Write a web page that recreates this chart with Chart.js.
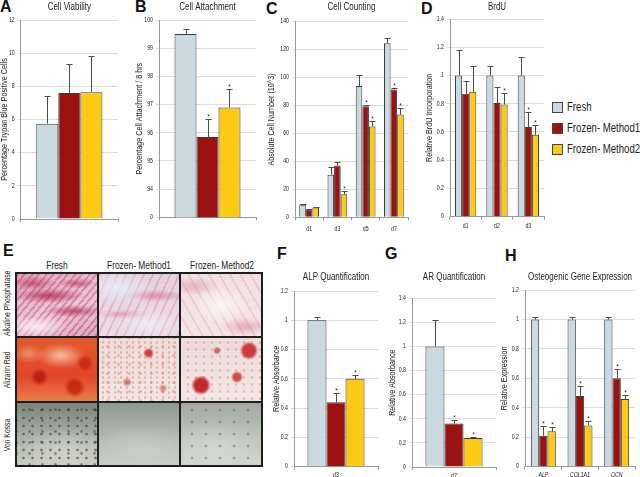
<!DOCTYPE html>
<html>
<head>
<meta charset="utf-8">
<script src="https://cdn.jsdelivr.net/npm/chart.js@4.4.0/dist/chart.umd.min.js"></script>
<style>
  body { margin: 0; background: #fff; }
  #fig { position: relative; width: 640px; height: 477px; overflow: hidden;
         font-family: "Liberation Sans", Arial, sans-serif; color: #222; }
  #fig canvas { position: absolute; }
  .letter { position: absolute; font: bold 16px "Liberation Sans", Arial, sans-serif; line-height: 1; color: #111; }
  .colhead { position: absolute; top: 259px; width: 84px; text-align: center; font-size: 10.5px; line-height: 12px;
             white-space: nowrap; transform: scaleX(0.8); }
  .rowhead { position: absolute; left: 7px; width: 80px; text-align: center; font-size: 8.5px; line-height: 10px;
             transform: translate(-50%, -50%) rotate(-90deg) scaleX(0.8); white-space: nowrap; }
  #photos { position: absolute; left: 15px; top: 272px; width: 244px; height: 191px; padding: 2px;
            background: #1e1e1e; display: grid; grid-template-columns: repeat(3, 1fr);
            grid-template-rows: repeat(3, 1fr); gap: 2px; }
  .legend { position: absolute; left: 552px; font-size: 12px; line-height: 12px; }
  .legend span.box { position: absolute; left: 0; top: 1px; width: 9px; height: 9px; border: 1px solid #444; }
  .legend span.txt { position: absolute; left: 15px; top: 0; white-space: nowrap;
                     transform: scaleX(0.8); transform-origin: 0 50%; }
</style>
</head>
<body>
<div id="fig">
  <div class="letter" style="left:0px;top:-1px">A</div>
  <div class="letter" style="left:135px;top:-1px">B</div>
  <div class="letter" style="left:266px;top:1px">C</div>
  <div class="letter" style="left:421px;top:1px">D</div>
  <div class="letter" style="left:3px;top:243px">E</div>
  <div class="letter" style="left:277px;top:246px">F</div>
  <div class="letter" style="left:385px;top:246px">G</div>
  <div class="letter" style="left:505px;top:248px">H</div>

  <div id="legend"></div>
  <div id="photoHeads"></div>
  <div id="photos"></div>

  <canvas id="chartA" width="121" height="233" style="left:0px;top:0px"></canvas>
  <canvas id="chartB" width="124" height="233" style="left:135px;top:0px"></canvas>
  <canvas id="chartC" width="144" height="233" style="left:267px;top:0px"></canvas>
  <canvas id="chartD" width="122" height="233" style="left:425px;top:0px"></canvas>
  <canvas id="chartF" width="109" height="207" style="left:272px;top:270px"></canvas>
  <canvas id="chartG" width="111" height="207" style="left:388px;top:270px"></canvas>
  <canvas id="chartH" width="138" height="207" style="left:500px;top:270px"></canvas>
</div>

<script>
const seriesNames = ["Fresh", "Frozen- Method1", "Frozen- Method2"];

// A - Cell Viability
const viabilityLabels = [""];
const viabilityMeans = [[5.75], [7.6], [7.65]];
const viabilityErrs = [[1.65], [1.75], [2.2]];
const viabilitySig = [[0], [0], [0]];

// B - Cell Attachment (broken axis, lowest tick reads 0)
const attachLabels = [""];
const attachMeans = [[99.5], [95.85], [96.9]];
const attachErrs = [[0.17], [0.65], [0.65]];
const attachSig = [[0], [1], [1]];

// C - Cell Counting
const countLabels = ["d1", "d3", "d5", "d7"];
const countMeans = [[9, 30.5, 94, 124.5], [5.5, 37, 79.5, 91.5], [7, 16.5, 65, 73.5]];
const countErrs = [[0.6, 5.5, 7.5, 4], [0.5, 2.5, 1, 0.8], [0.4, 2.2, 4, 4.5]];
const countSig = [[0, 0, 0, 0], [0, 0, 1, 1], [0, 1, 1, 1]];

// D - BrdU
const brduLabels = ["d1", "d2", "d3"];
const brduMeans = [[1, 1, 1], [0.87, 0.805, 0.635], [0.885, 0.795, 0.58]];
const brduErrs = [[0.18, 0.07, 0.13], [0.09, 0.115, 0.105], [0.185, 0.08, 0.07]];
const brduSig = [[0, 0, 0], [0, 0, 1], [0, 1, 1]];

// F - ALP Quantification
const alpLabels = ["d3"];
const alpMeans = [[1], [0.44], [0.6]];
const alpErrs = [[0.02], [0.065], [0.025]];
const alpSig = [[0], [1], [1]];

// G - AR Quantification
const arLabels = ["d7"];
const arMeans = [[1], [0.36], [0.24]];
const arErrs = [[0.22], [0.03], [0.006]];
const arSig = [[0], [1], [1]];

// H - Osteogenic Gene Expression
const geneLabels = ["ALP", "COL1A1", "OCN"];
const geneMeans = [[1, 1, 1], [0.21, 0.48, 0.6], [0.24, 0.28, 0.46]];
const geneErrs = [[0.02, 0.02, 0.02], [0.065, 0.065, 0.065], [0.03, 0.03, 0.03]];
const geneSig = [[0, 0, 0], [1, 1, 1], [1, 1, 1]];

// E - stain photos
const stainRows = ["Alkaline Phosphatase", "Alizarin Red", "Von Kossa"];

const fills = ["#cbd9e0", "#9c1212", "#fdcb16"];

Chart.defaults.font.family = "'Liberation Sans', Arial, sans-serif";
Chart.defaults.color = "#333";

// the original uses a condensed face; squeeze canvas text horizontally
const condense = {
  id: "condense",
  beforeInit(chart) {
    const ctx = chart.ctx;
    const fill = ctx.fillText.bind(ctx);
    ctx.fillText = function (text, x, y) {
      ctx.save();
      ctx.translate(x, y);
      ctx.scale(0.8, 1);
      fill(text, 0, 0);
      ctx.restore();
    };
  },
};

// upper whisker + significance star on each bar
const errorBars = {
  id: "errorBars",
  afterDatasetsDraw(chart) {
    const ctx = chart.ctx;
    const yScale = chart.scales.y;
    ctx.save();
    ctx.strokeStyle = "#4a4a4a";
    ctx.lineWidth = 1;
    ctx.fillStyle = "#222";
    ctx.font = "8px 'Liberation Sans', Arial, sans-serif";
    ctx.textAlign = "center";
    chart.data.datasets.forEach((ds, i) => {
      chart.getDatasetMeta(i).data.forEach((bar, j) => {
        const x = Math.round(bar.x) + 0.5;
        const yTop = Math.round(yScale.getPixelForValue(ds.data[j] + ds.errs[j])) + 0.5;
        ctx.beginPath();
        ctx.moveTo(x, bar.y);
        ctx.lineTo(x, yTop);
        ctx.moveTo(x - 3, yTop);
        ctx.lineTo(x + 3, yTop);
        ctx.stroke();
        if (ds.sig[j]) ctx.fillText("*", x, yTop - 1);
      });
    });
    ctx.restore();
  },
};

function barChart(id, p) {
  const el = document.getElementById(id);
  const cx = parseFloat(el.style.left), cy = parseFloat(el.style.top);
  const [L, T, R, B] = p.plot;
  const padTop = p.titleY - cy - 6;
  const datasets = seriesNames.map((name, i) => ({
    label: name,
    data: p.means[i],
    errs: p.errs[i],
    sig: p.sig[i],
    backgroundColor: fills[i],
    borderColor: "#3a3a3a",
    borderWidth: 1,
    categoryPercentage: p.catPct || 0.68,
    barPercentage: 1,
  }));

  // plain numbers ("1", "0.8"); a broken axis shows its floor as "0"
  const tickLabel = (v) =>
    p.zeroAt !== undefined && v === p.zeroAt ? "0" : String(Math.round(v * 100) / 100);

  return new Chart(el, {
    type: "bar",
    data: { labels: p.labels, datasets: datasets },
    options: {
      responsive: false,
      animation: false,
      layout: { padding: { left: 0, top: padTop, right: cx + el.width - R, bottom: 0 } },
      plugins: {
        legend: { display: false },
        tooltip: { enabled: false },
        title: {
          display: true,
          text: p.title,
          fullSize: false,
          color: "#222",
          font: { size: 10, weight: "normal", lineHeight: 1.2 },
          padding: { top: 0, bottom: (T - cy) - padTop - 12 },
        },
      },
      scales: {
        x: {
          grid: { display: true, drawOnChartArea: false, offset: true, tickLength: 3, color: "#999" },
          border: { color: "#999" },
          ticks: { font: { size: 6.5, style: p.italic ? "italic" : "normal" }, color: "#222", padding: p.xPad || 2 },
          afterFit: (s) => { s.height = el.height - (B - cy); },
        },
        y: {
          min: p.min,
          max: p.max,
          ticks: { stepSize: p.step, font: { size: 6.5 }, color: "#222", padding: 3, callback: tickLabel },
          grid: { color: "#dcdcdc", tickLength: 3 },
          border: { color: "#999" },
          title: { display: true, text: p.yTitle, color: "#222", font: { size: 9, lineHeight: 1 }, padding: 0 },
          afterFit: (s) => { s.width = L - cx; },
        },
      },
    },
    plugins: [condense, errorBars],
  });
}

barChart("chartA", {
  plot: [20.7, 20, 118, 219], titleY: 7, title: "Cell Viability",
  yTitle: "Percentage Trypan Blue Positive Cells",
  labels: viabilityLabels, means: viabilityMeans, errs: viabilityErrs, sig: viabilitySig,
  min: 0, max: 12, step: 2,
});

barChart("chartB", {
  plot: [159, 20, 256, 217.3], titleY: 7, title: "Cell Attachment",
  yTitle: "Percentage Cell Attachment / 8 hrs",
  labels: attachLabels, means: attachMeans, errs: attachErrs, sig: attachSig,
  min: 93, max: 100, step: 1, zeroAt: 93,
});

barChart("chartC", {
  plot: [295, 21.7, 408, 217.3], titleY: 7, title: "Cell Counting",
  yTitle: "Absolute Cell Number (10^3)",
  labels: countLabels, means: countMeans, errs: countErrs, sig: countSig,
  min: 0, max: 140, step: 20, catPct: 0.7, xPad: 5,
});

barChart("chartD", {
  plot: [450, 19, 544, 216.7], titleY: 7, title: "BrdU",
  yTitle: "Relative BrdU Incorporation",
  labels: brduLabels, means: brduMeans, errs: brduErrs, sig: brduSig,
  min: 0, max: 1.4, step: 0.2, xPad: 3,
});

barChart("chartF", {
  plot: [294, 291, 378, 466.7], titleY: 277, title: "ALP Quantification",
  yTitle: "Relative Absorbance",
  labels: alpLabels, means: alpMeans, errs: alpErrs, sig: alpSig,
  min: 0, max: 1.2, step: 0.2,
});

barChart("chartG", {
  plot: [412, 298.3, 496, 467], titleY: 277, title: "AR Quantification",
  yTitle: "Relative Absorbance",
  labels: arLabels, means: arMeans, errs: arErrs, sig: arSig,
  min: 0, max: 1.4, step: 0.2, italic: true,
});

barChart("chartH", {
  plot: [525, 290, 635, 466.7], titleY: 277, title: "Osteogenic Gene Expression",
  yTitle: "Relative Expression",
  labels: geneLabels, means: geneMeans, errs: geneErrs, sig: geneSig,
  min: 0, max: 1.2, step: 0.2, italic: true,
});

// legend beside panel D
const legendEl = document.getElementById("legend");
const legendY = [101, 122, 143];
seriesNames.forEach((name, i) => {
  const item = document.createElement("div");
  item.className = "legend";
  item.style.top = legendY[i] + "px";
  item.innerHTML = `<span class="box" style="background:${fills[i]}"></span><span class="txt">${name}</span>`;
  legendEl.appendChild(item);
});

// panel E: stain photo grid (painted approximations of the micrographs)
const photoFills = [
  // Alkaline Phosphatase
  "radial-gradient(ellipse 40% 18% at 25% 85%, rgba(250,245,250,.9), transparent)," +
  "radial-gradient(ellipse 45% 12% at 40% 35%, rgba(175,25,75,.75), transparent)," +
  "radial-gradient(ellipse 35% 10% at 70% 60%, rgba(170,30,75,.7), transparent)," +
  "radial-gradient(ellipse 30% 12% at 20% 15%, rgba(185,45,90,.65), transparent)," +
  "radial-gradient(ellipse 25% 8% at 75% 15%, rgba(180,40,85,.6), transparent)," +
  "repeating-linear-gradient(130deg, rgba(205,80,125,.35) 0 2px, rgba(245,225,235,.3) 2px 5px, rgba(195,60,110,.3) 5px 7px, rgba(250,240,245,.3) 7px 11px)," +
  "linear-gradient(160deg, #d690ab, #e4b6c8 60%, #d48ca8)",
  "radial-gradient(ellipse 45% 30% at 22% 22%, rgba(228,236,248,.95), transparent)," +
  "radial-gradient(ellipse 40% 25% at 60% 80%, rgba(238,238,246,.8), transparent)," +
  "radial-gradient(ellipse 40% 10% at 70% 35%, rgba(210,100,140,.6), transparent)," +
  "radial-gradient(ellipse 35% 8% at 30% 65%, rgba(215,110,150,.5), transparent)," +
  "repeating-linear-gradient(115deg, rgba(215,115,150,.3) 0 2px, rgba(240,232,242,.25) 2px 8px)," +
  "linear-gradient(180deg, #e3cad8, #ead8e2)",
  "radial-gradient(ellipse 35% 30% at 50% 50%, rgba(252,248,248,.9), transparent)," +
  "radial-gradient(ellipse 30% 15% at 80% 85%, rgba(215,110,130,.5), transparent)," +
  "radial-gradient(ellipse 30% 15% at 15% 20%, rgba(220,120,140,.45), transparent)," +
  "repeating-linear-gradient(60deg, rgba(225,140,155,.25) 0 2px, rgba(248,238,240,.2) 2px 9px)," +
  "linear-gradient(180deg, #efdce0, #f3e4e6)",
  // Alizarin Red
  "radial-gradient(circle at 28% 62%, rgba(185,25,10,.85) 0 6%, transparent 13%)," +
  "radial-gradient(circle at 72% 78%, rgba(190,30,10,.8) 0 7%, transparent 14%)," +
  "radial-gradient(circle at 85% 40%, rgba(190,35,15,.7) 0 5%, transparent 11%)," +
  "radial-gradient(ellipse 30% 20% at 55% 28%, rgba(248,205,180,.85), transparent)," +
  "radial-gradient(ellipse 20% 15% at 15% 25%, rgba(240,170,130,.7), transparent)," +
  "linear-gradient(180deg, #e25a2c, #e2462a 60%, #ec7c46)",
  "radial-gradient(circle at 62% 24%, rgba(190,40,40,.85) 0 4%, transparent 8%)," +
  "radial-gradient(circle at 35% 70%, rgba(200,60,50,.6) 0 3%, transparent 7%)," +
  "radial-gradient(circle at 80% 80%, rgba(200,60,50,.5) 0 2%, transparent 6%)," +
  "radial-gradient(circle, rgba(210,90,80,.4) 0 0.7px, transparent 1.6px) 1px 2px/6px 5px," +
  "radial-gradient(circle, rgba(200,70,60,.35) 0 0.8px, transparent 1.8px) 3px 4px/11px 9px," +
  "linear-gradient(180deg, #eedcd8, #f3e6e2)",
  "radial-gradient(circle at 25% 75%, rgba(190,20,25,.9) 0 8%, transparent 13%)," +
  "radial-gradient(circle at 85% 20%, rgba(200,30,30,.85) 0 7%, transparent 11%)," +
  "radial-gradient(circle at 70% 62%, rgba(200,40,40,.8) 0 5%, transparent 9%)," +
  "radial-gradient(circle at 45% 20%, rgba(200,50,50,.7) 0 3%, transparent 6%)," +
  "radial-gradient(circle, rgba(205,90,90,.35) 0 0.8px, transparent 1.8px) 3px 1px/8px 7px," +
  "linear-gradient(180deg, #ecdcd9, #f2e6e3)",
  // Von Kossa
  "radial-gradient(circle, rgba(70,40,25,.55) 0 0.9px, transparent 1.8px) 2px 3px/9px 8px," +
  "radial-gradient(circle, rgba(70,40,25,.5) 0 0.8px, transparent 1.8px) 6px 1px/13px 11px," +
  "radial-gradient(ellipse 60% 40% at 60% 80%, rgba(215,218,208,.7), transparent)," +
  "linear-gradient(180deg, #77857b, #a5afa4 50%, #c9cdc2)",
  "radial-gradient(ellipse 60% 40% at 55% 75%, rgba(210,214,205,.6), transparent)," +
  "linear-gradient(180deg, #8d998f, #b2bab0 55%, #c9cec4)",
  "radial-gradient(circle, rgba(90,60,40,.4) 0 0.8px, transparent 1.8px) 4px 1px/14px 12px," +
  "radial-gradient(ellipse 60% 40% at 40% 70%, rgba(220,224,215,.6), transparent)," +
  "linear-gradient(180deg, #a0aaa2, #c0c6bd 60%, #d2d6cd)",
];
const photosEl = document.getElementById("photos");
photoFills.forEach((bg) => {
  const cell = document.createElement("div");
  cell.style.background = bg;
  photosEl.appendChild(cell);
});

const headEl = document.getElementById("photoHeads");
const colLeft = [15, 97, 180];
seriesNames.forEach((name, i) => {
  const h = document.createElement("div");
  h.className = "colhead";
  h.style.left = colLeft[i] + "px";
  h.textContent = name;
  headEl.appendChild(h);
});
const rowMid = [304, 370, 435];
stainRows.forEach((name, i) => {
  const r = document.createElement("div");
  r.className = "rowhead";
  r.style.top = rowMid[i] + "px";
  r.textContent = name;
  headEl.appendChild(r);
});
</script>
</body>
</html>
